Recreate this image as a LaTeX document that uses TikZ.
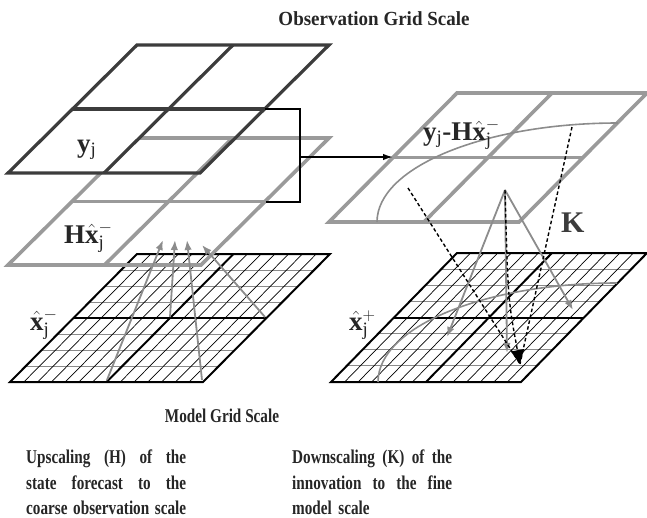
\documentclass[tikz,border=0pt]{standalone}
\usepackage{fontspec}
\setmainfont{Liberation Serif}
\newfontfamily\condfont[FakeStretch=0.78]{Liberation Serif}
\newfontfamily\titlefont[FakeStretch=0.95]{Liberation Serif}
\usetikzlibrary{arrows.meta}
\definecolor{darkg}{HTML}{3C3C3C}
\definecolor{lightg}{HTML}{9A9A9A}
\definecolor{arrg}{HTML}{8C8C8C}
\definecolor{finehc}{HTML}{8A8A8A}
\definecolor{labelc}{HTML}{262626}
\hyphenpenalty=10000
\exhyphenpenalty=10000
\tolerance=9999
\newcommand\coarsegrid[6]{%
  \draw[#6] (#1,#2) -- ++(#3,0) -- ++(#5,-#4) -- ++(-#3,0) -- cycle;
  \draw[#6] ({#1+#5/2},{#2-#4/2}) -- ++(#3,0);
  \draw[#6] ({#1+#3/2},#2) -- ++(#5,-#4);
}
\newcommand\finegrid[5]{%
  \foreach \k in {1,2,3,5,6,7} \draw[fineh] ({#1+\k*#5/8},{#2-\k*#4/8}) -- ++(#3,0);
  \foreach \k in {1,...,6,8,9,10,11,12,13} \draw[finev] ({#1+\k*#3/14},#2) -- ++(#5,-#4);
  \draw[finebold] (#1,#2) -- ++(#3,0) -- ++(#5,-#4) -- ++(-#3,0) -- cycle;
  \draw[finebold] ({#1+#5/2},{#2-#4/2}) -- ++(#3,0);
  \draw[finebold] ({#1+#3/2},#2) -- ++(#5,-#4);
}
\newcommand\jline[1]{\makebox[160pt][s]{\spaceskip=0pt\xspaceskip=0pt\relax #1}}
\begin{document}
\begin{tikzpicture}[x=1pt,y=-1pt,
  darkgrid/.style={draw=darkg, line width=3.2},
  graygrid/.style={draw=lightg, line width=3.6},
  finebold/.style={draw=black, line width=2},
  finev/.style={draw=black, line width=0.7},
  fineh/.style={draw=finehc, line width=0.9},
  bracket/.style={draw=black, line width=1.5},
  garrow/.style={draw=arrg, line width=1.8, -{Latex[length=10pt,width=7.5pt]}},
  dashline/.style={draw=black, line width=1.4, dash pattern=on 3.5pt off 2.5pt},
  arcline/.style={draw=arrg, line width=1.6},
  lab/.style={inner sep=0, text=labelc, font=\fontsize{27}{32}\selectfont},
  para/.style={inner sep=0, anchor=north west, text width=160pt, align=left,
    text=labelc, font=\condfont\bfseries\fontsize{19.5}{25.5}\selectfont},
]
\useasboundingbox (0,0) rectangle (647,517);

% fine model grids
\finegrid{10}{382}{193}{128}{127}
\finegrid{331}{382}{190}{129}{126}

% observation grids (left)
\coarsegrid{8}{265}{193}{127}{128}{graygrid}
\fill[white] (8,173) -- ++(96,0) -- ++(64.5,-64) -- ++(-96,0) -- cycle;
\coarsegrid{8}{173}{192}{128}{129}{darkgrid}

% innovation grid (right)
\coarsegrid{329}{222}{190}{129}{128}{graygrid}

% arcs
\coordinate (arcA1) at (377,222);
\coordinate (arcA2) at (618,123);
\coordinate (arcB1) at (378,382);
\coordinate (arcB2) at (617,283);
\draw[arcline] (arcA1) .. controls +(0,-55) and +(-133,0) .. (arcA2);
\draw[arcline] (arcB1) .. controls +(0,-55) and +(-133,0) .. (arcB2);

% bracket and arrow
\coordinate (bk1) at (265,109);
\coordinate (bk2) at (266,202);
\coordinate (bkx) at (300,157);
\coordinate (rmid) at (393,157);
\draw[bracket] (bk1) -- (bk1 -| bkx) -- (bk2 -| bkx) -- (bk2);
\draw[bracket, -{Latex[length=10pt,width=6.5pt]}] (bkx) -- (rmid);

% upscaling arrows
\coordinate (ls1) at (107,380); \coordinate (lt1) at (163,240);
\coordinate (ls2) at (170,317); \coordinate (lt2) at (175,240);
\coordinate (ls3) at (202,380); \coordinate (lt3) at (187,240);
\coordinate (ls4) at (265,317); \coordinate (lt4) at (202,245);
\draw[garrow] (ls1) -- (lt1);
\draw[garrow] (ls2) -- (lt2);
\draw[garrow] (ls3) -- (lt3);
\draw[garrow] (ls4) -- (lt4);

% downscaling arrows
\coordinate (apex) at (505,190);
\coordinate (rt1) at (447,337);
\coordinate (rt2) at (507,353);
\coordinate (rt3) at (573,310);
\draw[garrow] (apex) -- (rt1);
\draw[garrow] (apex) -- (rt2);
\draw[garrow] (apex) -- (rt3);
\coordinate (ds1) at (408,188);
\coordinate (ds3) at (572,127);
\coordinate (dt) at (520,364);
\draw[dashline] (ds1) -- (dt);
\draw[dashline] (ds3) -- (dt);
\draw[dashline, -{Triangle[length=14pt,width=13pt]}] (apex) .. controls (508,300) .. (dt);

% labels
\node[lab, anchor=base west] (yj) at (77,152) {$\mathbf{y}_{\mathrm{j}}$};
\node[lab, anchor=base west] (hx) at (64,243) {$\mathbf{H}\hat{\mathbf{x}}^{-}_{\mathrm{j}}$};
\node[lab, anchor=base west] (inno) at (423,140) {$\mathbf{y}_{\mathrm{j}}\textbf{-}\mathbf{H}\hat{\mathbf{x}}^{-}_{\mathrm{j}}$};
\node[lab, anchor=base west, text=darkg, font=\bfseries\fontsize{30}{36}\selectfont] (K) at (561,232) {K};
\node[lab, anchor=base west] (xm) at (30,330) {$\hat{\mathbf{x}}^{-}_{\mathrm{j}}$};
\node[lab, anchor=base west] (xp) at (349,330) {$\hat{\mathbf{x}}^{+}_{\mathrm{j}}$};

% texts
\node[inner sep=0, text=labelc, font=\titlefont\bfseries\fontsize{20}{24}\selectfont] (title) at (374,19) {Observation Grid Scale};
\node[inner sep=0, text=labelc, font=\condfont\bfseries\fontsize{19.5}{24}\selectfont] (model) at (222,416) {Model Grid Scale};
\node[para] (left) at (26,450) {\jline{Upscaling (H) of the}\\\jline{state forecast to the}\\\jline{coarse observation scale}};
\node[para] (right) at (292,450) {\jline{Downscaling (K) of the}\\\jline{innovation to the fine}\\model scale};
\end{tikzpicture}
\end{document}
